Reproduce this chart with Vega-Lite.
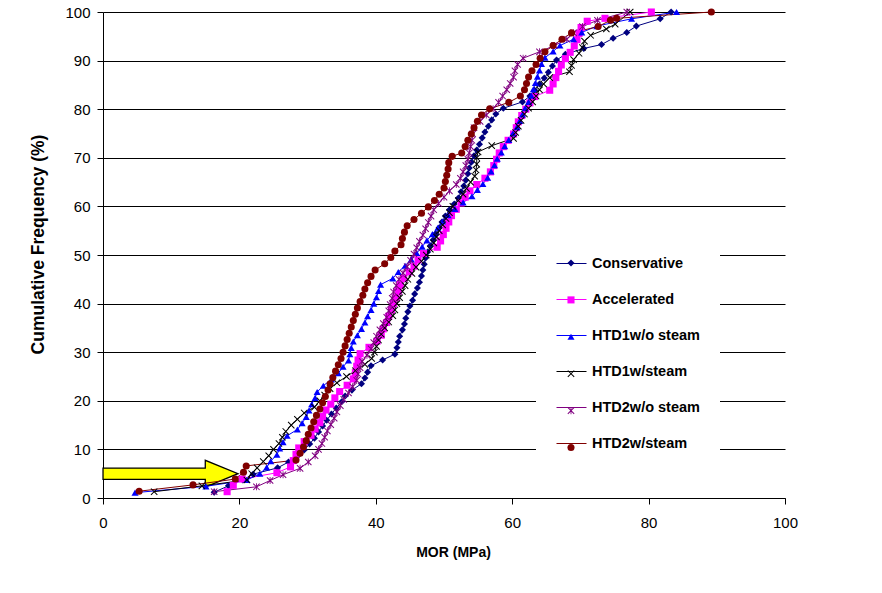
{
"$schema":"https://vega.github.io/schema/vega-lite/v6.json",
"width":682,"height":486,
"autosize":{"type":"none"},
"padding":{"left":103,"top":12,"right":97,"bottom":95},
"background":"white",
"config":{"view":{"stroke":null},"font":"Liberation Sans"},
"data":{"values":[
{"s":"Conservative","x":16.3,"y":1.2},{"s":"Conservative","x":18.4,"y":2.5},{"s":"Conservative","x":20.5,"y":3.7},{"s":"Conservative","x":22,"y":4.9},{"s":"Conservative","x":25.6,"y":6.2},{"s":"Conservative","x":27.2,"y":7.4},{"s":"Conservative","x":28.5,"y":8.6},{"s":"Conservative","x":29.5,"y":9.9},{"s":"Conservative","x":30.3,"y":11.1},{"s":"Conservative","x":31.0,"y":12.3},{"s":"Conservative","x":31.6,"y":13.6},{"s":"Conservative","x":32.2,"y":14.8},{"s":"Conservative","x":32.8,"y":16.0},{"s":"Conservative","x":33.5,"y":17.3},{"s":"Conservative","x":34.2,"y":18.5},{"s":"Conservative","x":35.0,"y":19.8},{"s":"Conservative","x":35.5,"y":21.0},{"s":"Conservative","x":36.5,"y":22.2},{"s":"Conservative","x":37.9,"y":23.5},{"s":"Conservative","x":38.4,"y":24.7},{"s":"Conservative","x":38.8,"y":25.9},{"s":"Conservative","x":39.3,"y":27.2},{"s":"Conservative","x":41.0,"y":28.4},{"s":"Conservative","x":42.8,"y":29.6},{"s":"Conservative","x":43.1,"y":30.9},{"s":"Conservative","x":43.3,"y":32.1},{"s":"Conservative","x":43.5,"y":33.3},{"s":"Conservative","x":43.9,"y":34.6},{"s":"Conservative","x":44.2,"y":35.8},{"s":"Conservative","x":44.4,"y":37.0},{"s":"Conservative","x":44.7,"y":38.3},{"s":"Conservative","x":45.0,"y":39.5},{"s":"Conservative","x":45.4,"y":40.7},{"s":"Conservative","x":45.7,"y":42.0},{"s":"Conservative","x":46.1,"y":43.2},{"s":"Conservative","x":46.4,"y":44.4},{"s":"Conservative","x":46.7,"y":45.7},{"s":"Conservative","x":46.9,"y":46.9},{"s":"Conservative","x":47.1,"y":48.1},{"s":"Conservative","x":47.3,"y":49.4},{"s":"Conservative","x":47.6,"y":50.6},{"s":"Conservative","x":48.0,"y":51.9},{"s":"Conservative","x":48.4,"y":53.1},{"s":"Conservative","x":48.8,"y":54.3},{"s":"Conservative","x":49.3,"y":55.6},{"s":"Conservative","x":49.7,"y":56.8},{"s":"Conservative","x":50.2,"y":58.0},{"s":"Conservative","x":50.8,"y":59.3},{"s":"Conservative","x":51.5,"y":60.5},{"s":"Conservative","x":52.1,"y":61.7},{"s":"Conservative","x":52.5,"y":63.0},{"s":"Conservative","x":52.9,"y":64.2},{"s":"Conservative","x":53.2,"y":65.4},{"s":"Conservative","x":53.5,"y":66.7},{"s":"Conservative","x":53.7,"y":67.9},{"s":"Conservative","x":54.0,"y":69.1},{"s":"Conservative","x":54.4,"y":70.4},{"s":"Conservative","x":54.8,"y":71.6},{"s":"Conservative","x":55.2,"y":72.8},{"s":"Conservative","x":55.6,"y":74.1},{"s":"Conservative","x":56.0,"y":75.3},{"s":"Conservative","x":56.5,"y":76.5},{"s":"Conservative","x":57.0,"y":77.8},{"s":"Conservative","x":57.6,"y":79.0},{"s":"Conservative","x":58.7,"y":80.2},{"s":"Conservative","x":61.5,"y":81.5},{"s":"Conservative","x":62.6,"y":82.7},{"s":"Conservative","x":63.3,"y":83.9},{"s":"Conservative","x":64.0,"y":85.2},{"s":"Conservative","x":64.7,"y":86.4},{"s":"Conservative","x":65.3,"y":87.6},{"s":"Conservative","x":65.9,"y":88.9},{"s":"Conservative","x":66.5,"y":90.1},{"s":"Conservative","x":67.8,"y":91.3},{"s":"Conservative","x":70.5,"y":92.5},{"s":"Conservative","x":73.1,"y":93.3},{"s":"Conservative","x":74.8,"y":94.6},{"s":"Conservative","x":76.8,"y":95.8},{"s":"Conservative","x":78.2,"y":97.1},{"s":"Conservative","x":81.7,"y":98.6},{"s":"Conservative","x":83.3,"y":100},
{"s":"Accelerated","x":18.2,"y":1.3},{"s":"Accelerated","x":19.1,"y":2.6},{"s":"Accelerated","x":20.4,"y":3.9},{"s":"Accelerated","x":25.5,"y":5.2},{"s":"Accelerated","x":27.5,"y":6.4},{"s":"Accelerated","x":27.9,"y":7.7},{"s":"Accelerated","x":28.3,"y":9.0},{"s":"Accelerated","x":28.7,"y":10.3},{"s":"Accelerated","x":29.5,"y":11.6},{"s":"Accelerated","x":30.5,"y":12.9},{"s":"Accelerated","x":31.1,"y":14.2},{"s":"Accelerated","x":31.8,"y":15.5},{"s":"Accelerated","x":32.2,"y":16.8},{"s":"Accelerated","x":32.7,"y":18.1},{"s":"Accelerated","x":33.4,"y":19.3},{"s":"Accelerated","x":34.0,"y":20.6},{"s":"Accelerated","x":34.7,"y":21.9},{"s":"Accelerated","x":35.8,"y":23.2},{"s":"Accelerated","x":36.7,"y":24.5},{"s":"Accelerated","x":37.0,"y":25.8},{"s":"Accelerated","x":37.2,"y":27.1},{"s":"Accelerated","x":37.4,"y":28.4},{"s":"Accelerated","x":37.7,"y":29.7},{"s":"Accelerated","x":39.0,"y":31.0},{"s":"Accelerated","x":40.2,"y":32.3},{"s":"Accelerated","x":40.8,"y":33.5},{"s":"Accelerated","x":41.1,"y":34.8},{"s":"Accelerated","x":41.6,"y":36.1},{"s":"Accelerated","x":41.9,"y":37.4},{"s":"Accelerated","x":42.3,"y":38.7},{"s":"Accelerated","x":42.6,"y":40.0},{"s":"Accelerated","x":43.0,"y":41.3},{"s":"Accelerated","x":43.3,"y":42.6},{"s":"Accelerated","x":43.6,"y":43.9},{"s":"Accelerated","x":44.1,"y":45.2},{"s":"Accelerated","x":44.9,"y":46.5},{"s":"Accelerated","x":45.6,"y":47.7},{"s":"Accelerated","x":46.2,"y":49.0},{"s":"Accelerated","x":47.0,"y":50.3},{"s":"Accelerated","x":49.0,"y":51.6},{"s":"Accelerated","x":49.5,"y":52.9},{"s":"Accelerated","x":49.9,"y":54.2},{"s":"Accelerated","x":50.3,"y":55.5},{"s":"Accelerated","x":50.7,"y":56.8},{"s":"Accelerated","x":51.1,"y":58.1},{"s":"Accelerated","x":51.8,"y":59.4},{"s":"Accelerated","x":52.5,"y":60.7},{"s":"Accelerated","x":53.1,"y":61.9},{"s":"Accelerated","x":53.8,"y":63.2},{"s":"Accelerated","x":54.8,"y":64.5},{"s":"Accelerated","x":56.0,"y":65.8},{"s":"Accelerated","x":56.8,"y":67.1},{"s":"Accelerated","x":57.3,"y":68.4},{"s":"Accelerated","x":57.7,"y":69.7},{"s":"Accelerated","x":58.1,"y":71.0},{"s":"Accelerated","x":58.7,"y":72.3},{"s":"Accelerated","x":59.4,"y":73.6},{"s":"Accelerated","x":60.2,"y":74.9},{"s":"Accelerated","x":60.6,"y":76.2},{"s":"Accelerated","x":60.9,"y":77.4},{"s":"Accelerated","x":61.4,"y":78.7},{"s":"Accelerated","x":62.0,"y":80.0},{"s":"Accelerated","x":62.6,"y":81.3},{"s":"Accelerated","x":63.3,"y":82.6},{"s":"Accelerated","x":65.5,"y":83.9},{"s":"Accelerated","x":66.0,"y":85.2},{"s":"Accelerated","x":66.4,"y":86.5},{"s":"Accelerated","x":66.8,"y":87.8},{"s":"Accelerated","x":67.2,"y":89.1},{"s":"Accelerated","x":67.8,"y":90.4},{"s":"Accelerated","x":68.5,"y":91.7},{"s":"Accelerated","x":69.1,"y":93.0},{"s":"Accelerated","x":69.5,"y":94.3},{"s":"Accelerated","x":69.8,"y":95.6},{"s":"Accelerated","x":70.1,"y":96.8},{"s":"Accelerated","x":71.0,"y":98.1},{"s":"Accelerated","x":73.6,"y":98.7},{"s":"Accelerated","x":80.4,"y":100},
{"s":"HTD1w/o steam","x":4.7,"y":1.1},{"s":"HTD1w/o steam","x":15.1,"y":2.4},{"s":"HTD1w/o steam","x":21.1,"y":3.7},{"s":"HTD1w/o steam","x":23.0,"y":5.0},{"s":"HTD1w/o steam","x":24.0,"y":6.3},{"s":"HTD1w/o steam","x":24.6,"y":7.6},{"s":"HTD1w/o steam","x":25.5,"y":8.9},{"s":"HTD1w/o steam","x":25.9,"y":10.2},{"s":"HTD1w/o steam","x":26.4,"y":11.5},{"s":"HTD1w/o steam","x":27.0,"y":12.8},{"s":"HTD1w/o steam","x":28.5,"y":14.1},{"s":"HTD1w/o steam","x":29.2,"y":15.4},{"s":"HTD1w/o steam","x":29.8,"y":16.7},{"s":"HTD1w/o steam","x":30.2,"y":18.0},{"s":"HTD1w/o steam","x":30.6,"y":19.3},{"s":"HTD1w/o steam","x":31.1,"y":20.6},{"s":"HTD1w/o steam","x":31.4,"y":21.8},{"s":"HTD1w/o steam","x":32.3,"y":23.1},{"s":"HTD1w/o steam","x":33.5,"y":24.4},{"s":"HTD1w/o steam","x":34.5,"y":25.7},{"s":"HTD1w/o steam","x":35.2,"y":27.0},{"s":"HTD1w/o steam","x":36.0,"y":28.3},{"s":"HTD1w/o steam","x":36.2,"y":29.6},{"s":"HTD1w/o steam","x":36.4,"y":30.9},{"s":"HTD1w/o steam","x":36.7,"y":32.2},{"s":"HTD1w/o steam","x":37.3,"y":33.5},{"s":"HTD1w/o steam","x":37.9,"y":34.8},{"s":"HTD1w/o steam","x":38.4,"y":36.1},{"s":"HTD1w/o steam","x":38.8,"y":37.4},{"s":"HTD1w/o steam","x":39.3,"y":38.7},{"s":"HTD1w/o steam","x":39.7,"y":40.0},{"s":"HTD1w/o steam","x":40.1,"y":41.3},{"s":"HTD1w/o steam","x":40.4,"y":42.6},{"s":"HTD1w/o steam","x":40.7,"y":43.9},{"s":"HTD1w/o steam","x":42.5,"y":45.2},{"s":"HTD1w/o steam","x":43.3,"y":46.5},{"s":"HTD1w/o steam","x":44.3,"y":47.8},{"s":"HTD1w/o steam","x":45.2,"y":49.1},{"s":"HTD1w/o steam","x":46.0,"y":50.4},{"s":"HTD1w/o steam","x":46.8,"y":51.7},{"s":"HTD1w/o steam","x":47.5,"y":53.0},{"s":"HTD1w/o steam","x":48.3,"y":54.3},{"s":"HTD1w/o steam","x":49.1,"y":55.6},{"s":"HTD1w/o steam","x":49.8,"y":56.9},{"s":"HTD1w/o steam","x":50.6,"y":58.2},{"s":"HTD1w/o steam","x":51.6,"y":59.5},{"s":"HTD1w/o steam","x":52.8,"y":60.8},{"s":"HTD1w/o steam","x":54.1,"y":62.1},{"s":"HTD1w/o steam","x":54.9,"y":63.4},{"s":"HTD1w/o steam","x":55.7,"y":64.6},{"s":"HTD1w/o steam","x":56.4,"y":65.9},{"s":"HTD1w/o steam","x":56.9,"y":67.2},{"s":"HTD1w/o steam","x":57.4,"y":68.5},{"s":"HTD1w/o steam","x":57.8,"y":69.8},{"s":"HTD1w/o steam","x":58.4,"y":71.1},{"s":"HTD1w/o steam","x":58.9,"y":72.4},{"s":"HTD1w/o steam","x":59.5,"y":73.7},{"s":"HTD1w/o steam","x":60.1,"y":75.0},{"s":"HTD1w/o steam","x":60.7,"y":76.3},{"s":"HTD1w/o steam","x":61.1,"y":77.6},{"s":"HTD1w/o steam","x":61.5,"y":78.9},{"s":"HTD1w/o steam","x":61.9,"y":80.2},{"s":"HTD1w/o steam","x":62.4,"y":81.5},{"s":"HTD1w/o steam","x":62.8,"y":82.8},{"s":"HTD1w/o steam","x":63.1,"y":84.1},{"s":"HTD1w/o steam","x":63.4,"y":85.4},{"s":"HTD1w/o steam","x":63.7,"y":86.7},{"s":"HTD1w/o steam","x":64.0,"y":88.0},{"s":"HTD1w/o steam","x":64.3,"y":89.3},{"s":"HTD1w/o steam","x":64.8,"y":90.6},{"s":"HTD1w/o steam","x":66.0,"y":91.9},{"s":"HTD1w/o steam","x":67.0,"y":93.1},{"s":"HTD1w/o steam","x":69.0,"y":94.4},{"s":"HTD1w/o steam","x":70.2,"y":95.8},{"s":"HTD1w/o steam","x":72.4,"y":97.1},{"s":"HTD1w/o steam","x":77.5,"y":98.6},{"s":"HTD1w/o steam","x":84.1,"y":100},
{"s":"HTD1w/steam","x":7.5,"y":1.3},{"s":"HTD1w/steam","x":14.5,"y":2.5},{"s":"HTD1w/steam","x":21.1,"y":3.7},{"s":"HTD1w/steam","x":21.8,"y":5.0},{"s":"HTD1w/steam","x":22.6,"y":6.2},{"s":"HTD1w/steam","x":23.5,"y":7.5},{"s":"HTD1w/steam","x":24.3,"y":8.7},{"s":"HTD1w/steam","x":25.0,"y":10.0},{"s":"HTD1w/steam","x":25.8,"y":11.2},{"s":"HTD1w/steam","x":26.3,"y":12.5},{"s":"HTD1w/steam","x":26.8,"y":13.7},{"s":"HTD1w/steam","x":27.6,"y":15.0},{"s":"HTD1w/steam","x":28.5,"y":16.2},{"s":"HTD1w/steam","x":29.5,"y":17.5},{"s":"HTD1w/steam","x":31.0,"y":18.7},{"s":"HTD1w/steam","x":31.8,"y":20.0},{"s":"HTD1w/steam","x":32.5,"y":21.2},{"s":"HTD1w/steam","x":33.3,"y":22.5},{"s":"HTD1w/steam","x":34.3,"y":23.7},{"s":"HTD1w/steam","x":35.7,"y":25.0},{"s":"HTD1w/steam","x":37.0,"y":26.2},{"s":"HTD1w/steam","x":38.4,"y":27.5},{"s":"HTD1w/steam","x":39.4,"y":28.7},{"s":"HTD1w/steam","x":39.8,"y":30.0},{"s":"HTD1w/steam","x":40.1,"y":31.2},{"s":"HTD1w/steam","x":40.4,"y":32.5},{"s":"HTD1w/steam","x":40.8,"y":33.7},{"s":"HTD1w/steam","x":41.3,"y":35.0},{"s":"HTD1w/steam","x":41.9,"y":36.2},{"s":"HTD1w/steam","x":42.5,"y":37.5},{"s":"HTD1w/steam","x":42.8,"y":38.7},{"s":"HTD1w/steam","x":43.1,"y":40.0},{"s":"HTD1w/steam","x":43.5,"y":41.2},{"s":"HTD1w/steam","x":43.9,"y":42.5},{"s":"HTD1w/steam","x":44.3,"y":43.7},{"s":"HTD1w/steam","x":44.7,"y":45.0},{"s":"HTD1w/steam","x":45.3,"y":46.2},{"s":"HTD1w/steam","x":45.9,"y":47.5},{"s":"HTD1w/steam","x":46.7,"y":48.7},{"s":"HTD1w/steam","x":47.4,"y":50.0},{"s":"HTD1w/steam","x":48.0,"y":51.2},{"s":"HTD1w/steam","x":48.5,"y":52.5},{"s":"HTD1w/steam","x":48.9,"y":53.7},{"s":"HTD1w/steam","x":49.3,"y":55.0},{"s":"HTD1w/steam","x":49.8,"y":56.2},{"s":"HTD1w/steam","x":50.3,"y":57.5},{"s":"HTD1w/steam","x":50.8,"y":58.7},{"s":"HTD1w/steam","x":51.3,"y":60.0},{"s":"HTD1w/steam","x":52.1,"y":61.2},{"s":"HTD1w/steam","x":52.8,"y":62.5},{"s":"HTD1w/steam","x":53.3,"y":63.7},{"s":"HTD1w/steam","x":53.9,"y":65.0},{"s":"HTD1w/steam","x":54.5,"y":66.2},{"s":"HTD1w/steam","x":54.7,"y":67.5},{"s":"HTD1w/steam","x":54.8,"y":68.7},{"s":"HTD1w/steam","x":54.8,"y":70.0},{"s":"HTD1w/steam","x":55.0,"y":71.2},{"s":"HTD1w/steam","x":57.0,"y":72.5},{"s":"HTD1w/steam","x":60.2,"y":74.0},{"s":"HTD1w/steam","x":60.5,"y":75.2},{"s":"HTD1w/steam","x":60.9,"y":76.5},{"s":"HTD1w/steam","x":61.3,"y":77.7},{"s":"HTD1w/steam","x":61.8,"y":79.0},{"s":"HTD1w/steam","x":62.4,"y":80.2},{"s":"HTD1w/steam","x":63.0,"y":81.5},{"s":"HTD1w/steam","x":63.5,"y":82.7},{"s":"HTD1w/steam","x":64.0,"y":84.0},{"s":"HTD1w/steam","x":64.6,"y":85.2},{"s":"HTD1w/steam","x":65.5,"y":86.5},{"s":"HTD1w/steam","x":68.4,"y":87.7},{"s":"HTD1w/steam","x":68.7,"y":89.0},{"s":"HTD1w/steam","x":69.0,"y":90.2},{"s":"HTD1w/steam","x":69.8,"y":91.5},{"s":"HTD1w/steam","x":70.3,"y":92.7},{"s":"HTD1w/steam","x":70.6,"y":94.0},{"s":"HTD1w/steam","x":71.5,"y":95.2},{"s":"HTD1w/steam","x":73.8,"y":96.5},{"s":"HTD1w/steam","x":75.1,"y":97.5},{"s":"HTD1w/steam","x":77.3,"y":100},
{"s":"HTD2w/o steam","x":16.3,"y":1.3},{"s":"HTD2w/o steam","x":22.5,"y":2.3},{"s":"HTD2w/o steam","x":24.5,"y":3.6},{"s":"HTD2w/o steam","x":26.4,"y":4.8},{"s":"HTD2w/o steam","x":28.9,"y":6.1},{"s":"HTD2w/o steam","x":30.1,"y":7.4},{"s":"HTD2w/o steam","x":31.1,"y":8.7},{"s":"HTD2w/o steam","x":31.6,"y":10.0},{"s":"HTD2w/o steam","x":32.1,"y":11.2},{"s":"HTD2w/o steam","x":32.5,"y":12.5},{"s":"HTD2w/o steam","x":32.9,"y":13.8},{"s":"HTD2w/o steam","x":33.4,"y":15.1},{"s":"HTD2w/o steam","x":33.9,"y":16.4},{"s":"HTD2w/o steam","x":34.3,"y":17.7},{"s":"HTD2w/o steam","x":34.8,"y":19.0},{"s":"HTD2w/o steam","x":35.3,"y":20.3},{"s":"HTD2w/o steam","x":36.0,"y":21.6},{"s":"HTD2w/o steam","x":36.6,"y":22.9},{"s":"HTD2w/o steam","x":37.2,"y":24.2},{"s":"HTD2w/o steam","x":37.4,"y":25.5},{"s":"HTD2w/o steam","x":37.7,"y":26.8},{"s":"HTD2w/o steam","x":38.0,"y":28.1},{"s":"HTD2w/o steam","x":38.7,"y":29.4},{"s":"HTD2w/o steam","x":39.3,"y":30.7},{"s":"HTD2w/o steam","x":39.7,"y":32.0},{"s":"HTD2w/o steam","x":40.1,"y":33.3},{"s":"HTD2w/o steam","x":40.6,"y":34.6},{"s":"HTD2w/o steam","x":41.1,"y":35.9},{"s":"HTD2w/o steam","x":41.6,"y":37.2},{"s":"HTD2w/o steam","x":41.9,"y":38.5},{"s":"HTD2w/o steam","x":42.1,"y":39.8},{"s":"HTD2w/o steam","x":42.4,"y":41.1},{"s":"HTD2w/o steam","x":42.6,"y":42.4},{"s":"HTD2w/o steam","x":43.0,"y":43.7},{"s":"HTD2w/o steam","x":43.4,"y":45.0},{"s":"HTD2w/o steam","x":44.0,"y":46.3},{"s":"HTD2w/o steam","x":44.6,"y":47.6},{"s":"HTD2w/o steam","x":45.1,"y":48.9},{"s":"HTD2w/o steam","x":45.6,"y":50.2},{"s":"HTD2w/o steam","x":46.0,"y":51.5},{"s":"HTD2w/o steam","x":46.4,"y":52.8},{"s":"HTD2w/o steam","x":46.9,"y":54.1},{"s":"HTD2w/o steam","x":47.3,"y":55.4},{"s":"HTD2w/o steam","x":47.7,"y":56.7},{"s":"HTD2w/o steam","x":48.1,"y":58.0},{"s":"HTD2w/o steam","x":48.5,"y":59.3},{"s":"HTD2w/o steam","x":49.2,"y":60.6},{"s":"HTD2w/o steam","x":50.0,"y":61.9},{"s":"HTD2w/o steam","x":50.8,"y":63.2},{"s":"HTD2w/o steam","x":51.8,"y":64.5},{"s":"HTD2w/o steam","x":52.4,"y":65.8},{"s":"HTD2w/o steam","x":52.8,"y":67.1},{"s":"HTD2w/o steam","x":53.2,"y":68.4},{"s":"HTD2w/o steam","x":53.5,"y":69.7},{"s":"HTD2w/o steam","x":53.7,"y":71.0},{"s":"HTD2w/o steam","x":53.9,"y":72.3},{"s":"HTD2w/o steam","x":54.1,"y":73.6},{"s":"HTD2w/o steam","x":54.2,"y":74.9},{"s":"HTD2w/o steam","x":54.4,"y":76.2},{"s":"HTD2w/o steam","x":55.3,"y":77.5},{"s":"HTD2w/o steam","x":56.2,"y":78.8},{"s":"HTD2w/o steam","x":57.2,"y":80.1},{"s":"HTD2w/o steam","x":58.0,"y":81.4},{"s":"HTD2w/o steam","x":58.6,"y":82.7},{"s":"HTD2w/o steam","x":59.2,"y":84.0},{"s":"HTD2w/o steam","x":59.7,"y":85.3},{"s":"HTD2w/o steam","x":60.2,"y":86.6},{"s":"HTD2w/o steam","x":60.4,"y":87.9},{"s":"HTD2w/o steam","x":60.8,"y":89.2},{"s":"HTD2w/o steam","x":61.6,"y":90.5},{"s":"HTD2w/o steam","x":64.0,"y":91.8},{"s":"HTD2w/o steam","x":66.2,"y":93.1},{"s":"HTD2w/o steam","x":68.0,"y":94.4},{"s":"HTD2w/o steam","x":69.0,"y":95.7},{"s":"HTD2w/o steam","x":70.3,"y":97.0},{"s":"HTD2w/o steam","x":72.5,"y":98.3},{"s":"HTD2w/o steam","x":76.8,"y":100},
{"s":"HTD2w/steam","x":5.3,"y":1.4},{"s":"HTD2w/steam","x":13.2,"y":2.7},{"s":"HTD2w/steam","x":19.4,"y":3.9},{"s":"HTD2w/steam","x":20.6,"y":5.3},{"s":"HTD2w/steam","x":21.0,"y":6.6},{"s":"HTD2w/steam","x":28.3,"y":7.8},{"s":"HTD2w/steam","x":28.9,"y":9.2},{"s":"HTD2w/steam","x":29.4,"y":10.5},{"s":"HTD2w/steam","x":29.8,"y":11.8},{"s":"HTD2w/steam","x":30.1,"y":13.1},{"s":"HTD2w/steam","x":30.5,"y":14.4},{"s":"HTD2w/steam","x":30.9,"y":15.7},{"s":"HTD2w/steam","x":31.3,"y":17.0},{"s":"HTD2w/steam","x":31.8,"y":18.3},{"s":"HTD2w/steam","x":32.2,"y":19.6},{"s":"HTD2w/steam","x":32.6,"y":20.9},{"s":"HTD2w/steam","x":33.0,"y":22.2},{"s":"HTD2w/steam","x":33.3,"y":23.5},{"s":"HTD2w/steam","x":33.7,"y":24.8},{"s":"HTD2w/steam","x":34.1,"y":26.1},{"s":"HTD2w/steam","x":34.5,"y":27.4},{"s":"HTD2w/steam","x":34.9,"y":28.7},{"s":"HTD2w/steam","x":35.2,"y":30.0},{"s":"HTD2w/steam","x":35.5,"y":31.3},{"s":"HTD2w/steam","x":35.8,"y":32.6},{"s":"HTD2w/steam","x":36.1,"y":33.9},{"s":"HTD2w/steam","x":36.4,"y":35.2},{"s":"HTD2w/steam","x":36.7,"y":36.5},{"s":"HTD2w/steam","x":37.0,"y":37.8},{"s":"HTD2w/steam","x":37.3,"y":39.1},{"s":"HTD2w/steam","x":37.7,"y":40.4},{"s":"HTD2w/steam","x":38.1,"y":41.7},{"s":"HTD2w/steam","x":38.4,"y":43.0},{"s":"HTD2w/steam","x":38.8,"y":44.3},{"s":"HTD2w/steam","x":39.3,"y":45.6},{"s":"HTD2w/steam","x":39.9,"y":46.9},{"s":"HTD2w/steam","x":41.3,"y":48.2},{"s":"HTD2w/steam","x":42.2,"y":49.5},{"s":"HTD2w/steam","x":42.8,"y":50.8},{"s":"HTD2w/steam","x":43.7,"y":52.1},{"s":"HTD2w/steam","x":43.9,"y":53.4},{"s":"HTD2w/steam","x":44.2,"y":54.7},{"s":"HTD2w/steam","x":44.6,"y":56.0},{"s":"HTD2w/steam","x":45.6,"y":57.3},{"s":"HTD2w/steam","x":46.7,"y":58.6},{"s":"HTD2w/steam","x":47.7,"y":59.9},{"s":"HTD2w/steam","x":48.6,"y":61.2},{"s":"HTD2w/steam","x":49.3,"y":62.5},{"s":"HTD2w/steam","x":50.0,"y":63.8},{"s":"HTD2w/steam","x":50.2,"y":65.1},{"s":"HTD2w/steam","x":50.4,"y":66.4},{"s":"HTD2w/steam","x":50.6,"y":67.7},{"s":"HTD2w/steam","x":50.7,"y":69.0},{"s":"HTD2w/steam","x":51.2,"y":70.3},{"s":"HTD2w/steam","x":52.6,"y":71.0},{"s":"HTD2w/steam","x":53.1,"y":72.3},{"s":"HTD2w/steam","x":53.5,"y":73.6},{"s":"HTD2w/steam","x":54.0,"y":74.9},{"s":"HTD2w/steam","x":54.4,"y":76.2},{"s":"HTD2w/steam","x":54.9,"y":77.5},{"s":"HTD2w/steam","x":55.5,"y":78.8},{"s":"HTD2w/steam","x":56.7,"y":80.1},{"s":"HTD2w/steam","x":59.5,"y":81.4},{"s":"HTD2w/steam","x":61.2,"y":82.7},{"s":"HTD2w/steam","x":61.8,"y":84.0},{"s":"HTD2w/steam","x":62.1,"y":85.3},{"s":"HTD2w/steam","x":62.4,"y":86.6},{"s":"HTD2w/steam","x":62.9,"y":87.9},{"s":"HTD2w/steam","x":63.5,"y":89.2},{"s":"HTD2w/steam","x":64.1,"y":90.5},{"s":"HTD2w/steam","x":64.8,"y":91.8},{"s":"HTD2w/steam","x":66.0,"y":93.1},{"s":"HTD2w/steam","x":67.3,"y":94.4},{"s":"HTD2w/steam","x":68.7,"y":95.7},{"s":"HTD2w/steam","x":72.6,"y":97.0},{"s":"HTD2w/steam","x":74.4,"y":98.3},{"s":"HTD2w/steam","x":75.3,"y":98.7},{"s":"HTD2w/steam","x":89.2,"y":100}
]},
"encoding":{
 "x":{"field":"x","type":"quantitative","scale":{"domain":[0,100],"nice":false},
  "axis":{"title":"MOR (MPa)","values":[0,20,40,60,80,100],"grid":false,"labelFlush":false,"domainColor":"#000","tickColor":"#000","tickSize":6,"labelFontSize":15,"labelColor":"#000","labelPadding":11,"titleFontSize":14,"titleFontWeight":"bold","titleColor":"#000","titlePadding":15,"titleX":350}},
 "y":{"field":"y","type":"quantitative","scale":{"domain":[0,100],"nice":false},
  "axis":{"title":"Cumulative Frequency (%)","values":[0,10,20,30,40,50,60,70,80,90,100],"grid":true,"labelFlush":false,"gridColor":"#000","gridWidth":1,"gridOpacity":1,"domainColor":"#000","tickColor":"#000","tickSize":6,"labelFontSize":15,"labelColor":"#000","labelPadding":7,"titleFontSize":17.5,"titleFontWeight":"bold","titleColor":"#000","titlePadding":17,"titleY":232}}
},
"layer":[
 {"data":{"values":[{"x":9.9,"y":5.0}]},
  "mark":{"type":"point","shape":"M-1,-0.083L0.515,-0.083L0.515,-0.198L1,0L0.515,0.198L0.515,0.083L-1,0.083Z","size":18225,"filled":true,"fill":"#FFFF00","stroke":"#000000","strokeWidth":1.3,"opacity":1}},
 {"mark":{"type":"line","strokeWidth":1},
  "encoding":{
   "stroke":{"field":"s","type":"nominal","sort":["Conservative","Accelerated","HTD1w/o steam","HTD1w/steam","HTD2w/o steam","HTD2w/steam"],"scale":{"range":["#000080","#FF00FF","#0000FF","#000000","#800080","#800000"]},
    "legend":{"title":null,"orient":"none","legendX":433,"legendY":216,"symbolType":"stroke","symbolSize":900,"symbolStrokeWidth":1,"labelFont":"Liberation Sans","labelFontWeight":"bold","labelFontSize":14.5,"labelColor":"#000","labelOffset":5,"labelLimit":300,"rowPadding":14,"padding":20,"fillColor":"#FFFFFF","zindex":1}},
   "order":{"field":"y","type":"quantitative"}}},
 {"mark":{"type":"point","filled":true,"size":50,"opacity":1},
  "encoding":{
   "color":{"field":"s","type":"nominal","scale":{"domain":["Conservative","Accelerated","HTD1w/o steam","HTD1w/steam","HTD2w/o steam","HTD2w/steam"],"range":["#000080","#FF00FF","#0000FF","#000000","#800080","#800000"]},
    "legend":{"title":null,"orient":"none","legendX":444,"legendY":227,"symbolSize":50,"symbolOpacity":1,"symbolStrokeWidth":0,"labelExpr":"''","labelFontSize":1,"labelOffset":0,"rowPadding":28.9,"padding":20,"zindex":2}},
   "shape":{"field":"s","type":"nominal","scale":{"domain":["Conservative","Accelerated","HTD1w/o steam","HTD1w/steam","HTD2w/o steam","HTD2w/steam"],"range":["diamond","square","triangle-up","M-1,-0.8L-0.8,-1L1,0.8L0.8,1Z M-1,0.8L0.8,-1L1,-0.8L-0.8,1Z","M-1,-0.8L-0.8,-1L1,0.8L0.8,1Z M-1,0.8L0.8,-1L1,-0.8L-0.8,1Z M-0.12,-1L0.12,-1L0.12,1L-0.12,1Z","circle"]},
    "legend":{"title":null,"orient":"none","legendX":444,"legendY":227,"symbolSize":50,"symbolOpacity":1,"symbolStrokeWidth":0,"labelExpr":"''","labelFontSize":1,"labelOffset":0,"rowPadding":28.9,"padding":20,"zindex":2}}}}
]
}
